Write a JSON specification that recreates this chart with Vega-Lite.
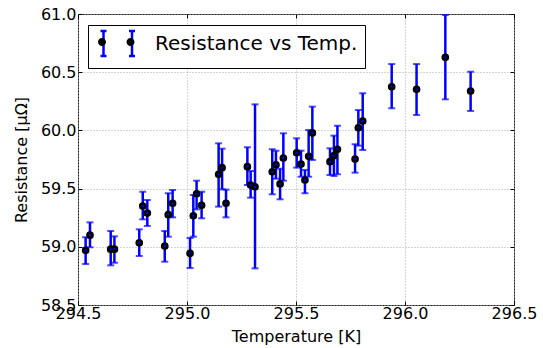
{
  "$schema": "https://vega.github.io/schema/vega-lite/v6.json",
  "width": 436,
  "height": 291,
  "autosize": {"type": "none"},
  "padding": {"left": 78, "top": 14, "right": 29, "bottom": 43},
  "background": "white",
  "config": {
    "view": {"stroke": "#222", "strokeWidth": 1},
    "font": "DejaVu Sans",
    "axis": {
      "labelFont": "DejaVu Sans", "labelFontSize": 16, "labelColor": "#000",
      "titleFont": "DejaVu Sans", "titleFontSize": 16, "titleFontWeight": "normal", "titleColor": "#000",
      "domain": false, "tickColor": "#000", "tickSize": -4, "tickWidth": 1,
      "gridColor": "#aaaaaa", "gridDash": [1, 2], "gridWidth": 1
    }
  },
  "data": {"values": [
    {"t": 294.535, "r": 58.97, "lo": 58.852, "hi": 59.082},
    {"t": 294.555, "r": 59.10, "lo": 58.996, "hi": 59.21},
    {"t": 294.650, "r": 58.98, "lo": 58.841, "hi": 59.136},
    {"t": 294.667, "r": 58.98, "lo": 58.863, "hi": 59.09},
    {"t": 294.781, "r": 59.035, "lo": 58.921, "hi": 59.15},
    {"t": 294.797, "r": 59.35, "lo": 59.236, "hi": 59.473},
    {"t": 294.818, "r": 59.29, "lo": 59.179, "hi": 59.402},
    {"t": 294.898, "r": 59.007, "lo": 58.872, "hi": 59.136},
    {"t": 294.914, "r": 59.276, "lo": 59.087, "hi": 59.46},
    {"t": 294.934, "r": 59.374, "lo": 59.253, "hi": 59.488},
    {"t": 295.014, "r": 58.944, "lo": 58.818, "hi": 59.076},
    {"t": 295.029, "r": 59.267, "lo": 59.087, "hi": 59.445},
    {"t": 295.044, "r": 59.456, "lo": 59.322, "hi": 59.568},
    {"t": 295.067, "r": 59.357, "lo": 59.245, "hi": 59.473},
    {"t": 295.145, "r": 59.623, "lo": 59.345, "hi": 59.889},
    {"t": 295.161, "r": 59.68, "lo": 59.494, "hi": 59.843},
    {"t": 295.179, "r": 59.374, "lo": 59.253, "hi": 59.491},
    {"t": 295.277, "r": 59.688, "lo": 59.531, "hi": 59.855},
    {"t": 295.292, "r": 59.531, "lo": 59.422, "hi": 59.651},
    {"t": 295.312, "r": 59.516, "lo": 58.815, "hi": 60.224},
    {"t": 295.391, "r": 59.645, "lo": 59.451, "hi": 59.838},
    {"t": 295.408, "r": 59.705, "lo": 59.585, "hi": 59.825},
    {"t": 295.427, "r": 59.54, "lo": 59.408, "hi": 59.671},
    {"t": 295.442, "r": 59.763, "lo": 59.568, "hi": 59.975},
    {"t": 295.503, "r": 59.808, "lo": 59.68, "hi": 59.932},
    {"t": 295.523, "r": 59.711, "lo": 59.602, "hi": 59.826},
    {"t": 295.541, "r": 59.574, "lo": 59.46, "hi": 59.66},
    {"t": 295.558, "r": 59.777, "lo": 59.602, "hi": 60.003},
    {"t": 295.575, "r": 59.978, "lo": 59.746, "hi": 60.204},
    {"t": 295.656, "r": 59.731, "lo": 59.617, "hi": 59.846},
    {"t": 295.674, "r": 59.783, "lo": 59.608, "hi": 59.955},
    {"t": 295.690, "r": 59.838, "lo": 59.623, "hi": 60.04},
    {"t": 295.771, "r": 59.754, "lo": 59.637, "hi": 59.881},
    {"t": 295.786, "r": 60.023, "lo": 59.869, "hi": 60.175},
    {"t": 295.806, "r": 60.081, "lo": 59.832, "hi": 60.319},
    {"t": 295.939, "r": 60.375, "lo": 60.19, "hi": 60.57},
    {"t": 296.053, "r": 60.353, "lo": 60.132, "hi": 60.57},
    {"t": 296.185, "r": 60.628, "lo": 60.267, "hi": 60.991},
    {"t": 296.301, "r": 60.338, "lo": 60.167, "hi": 60.504}
  ]},
  "resolve": {"axis": {"x": "independent", "y": "independent"}},
  "layer": [
    {
      "mark": {"type": "rule", "strokeWidth": 2.5},
      "encoding": {
        "x": {"field": "t", "type": "quantitative",
              "scale": {"domain": [294.5, 296.5], "nice": false, "zero": false},
              "axis": {"values": [294.5, 295.0, 295.5, 296.0, 296.5], "format": ".1f", "title": "Temperature [K]", "labelPadding": 4, "titlePadding": 7, "labelFlush": false}},
        "y": {"field": "lo", "type": "quantitative",
              "scale": {"domain": [58.5, 61.0], "nice": false, "zero": false},
              "axis": {"values": [58.5, 59.0, 59.5, 60.0, 60.5, 61.0], "format": ".1f", "title": "Resistance [μΩ]", "labelPadding": 6, "titlePadding": 11, "labelFlush": false}},
        "y2": {"field": "hi"},
        "color": {"datum": "Resistance vs Temp.", "type": "nominal",
                  "scale": {"range": ["#0000ff"]},
                  "legend": {
                    "orient": "none", "legendX": 10, "legendY": 11, "title": null,
                    "symbolType": "M-0.3,-1.25L-0.3,1.25M-0.6,-1.25L0,-1.25M-0.6,1.25L0,1.25M2.55,-1.25L2.55,1.25M2.25,-1.25L2.85,-1.25M2.25,1.25L2.85,1.25",
                    "symbolSize": 400, "symbolStrokeWidth": 2.5, "symbolStrokeColor": "#0000ff", "symbolFillColor": "transparent",
                    "labelFont": "DejaVu Sans", "labelFontSize": 20, "labelColor": "#000", "labelOffset": 37, "labelLimit": 400,
                    "strokeColor": "#000", "fillColor": "white", "padding": 7
                  }}
      }
    },
    {
      "mark": {"type": "tick", "orient": "horizontal", "size": 7, "thickness": 2, "color": "#0000ff"},
      "encoding": {
        "x": {"field": "t", "type": "quantitative", "axis": null},
        "y": {"field": "lo", "type": "quantitative", "axis": null}
      }
    },
    {
      "mark": {"type": "tick", "orient": "horizontal", "size": 7, "thickness": 2, "color": "#0000ff"},
      "encoding": {
        "x": {"field": "t", "type": "quantitative", "axis": null},
        "y": {"field": "hi", "type": "quantitative", "axis": null}
      }
    },
    {
      "mark": {"type": "point", "filled": false, "size": 28, "strokeWidth": 2.4, "stroke": "#000", "opacity": 1},
      "encoding": {
        "x": {"field": "t", "type": "quantitative",
              "axis": {"orient": "top", "values": [294.5, 295.0, 295.5, 296.0, 296.5], "labels": false, "grid": false, "title": null}},
        "y": {"field": "r", "type": "quantitative",
              "axis": {"orient": "right", "values": [58.5, 59.0, 59.5, 60.0, 60.5, 61.0], "labels": false, "grid": false, "title": null}},
        "fill": {"datum": "markers", "type": "nominal",
                 "scale": {"range": ["#000000"]},
                 "legend": {
                   "orient": "none", "legendX": 10, "legendY": 11, "title": null,
                   "symbolType": "M0.1,0A0.4,0.4,0,1,0,-0.7,0A0.4,0.4,0,1,0,0.1,0Z M2.95,0A0.4,0.4,0,1,0,2.15,0A0.4,0.4,0,1,0,2.95,0Z",
                   "symbolSize": 400, "symbolStrokeWidth": 0, "symbolStrokeColor": "transparent",
                   "labelFont": "DejaVu Sans", "labelFontSize": 20, "labelOpacity": 0, "labelExpr": "''", "labelOffset": 37,
                   "padding": 7
                 }}
      }
    },
    {
      "mark": {"type": "point", "filled": true, "size": 5, "color": "#0000ff", "opacity": 1},
      "encoding": {
        "x": {"field": "t", "type": "quantitative", "axis": null},
        "y": {"field": "r", "type": "quantitative", "axis": null}
      }
    }
  ]
}
